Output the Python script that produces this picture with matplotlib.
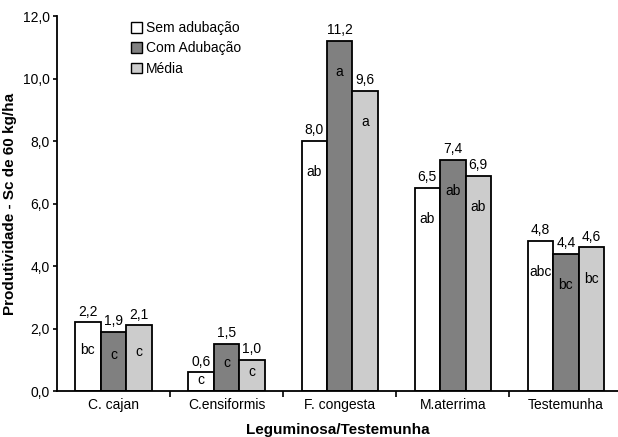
import numpy as np
import matplotlib
matplotlib.use("Agg")
import matplotlib.pyplot as plt
from matplotlib.patches import Patch

plt.rcParams["font.family"] = ["Liberation Sans", "DejaVu Sans"]

categories = ["C. cajan", "C.ensiformis", "F. congesta", "M.aterrima", "Testemunha"]
series_names = ["Sem adubação", "Com Adubação", "Média"]
sem_adub = [2.2, 0.6, 8.0, 6.5, 4.8]
com_adub = [1.9, 1.5, 11.2, 7.4, 4.4]
media = [2.1, 1.0, 9.6, 6.9, 4.6]
letters_sem = ["bc", "c", "ab", "ab", "abc"]
letters_com = ["c", "c", "a", "ab", "bc"]
letters_med = ["c", "c", "a", "ab", "bc"]
yticks = [0, 2, 4, 6, 8, 10, 12]

colors = ["white", "#808080", "#cccccc"]
values = [sem_adub, com_adub, media]
letters = [letters_sem, letters_com, letters_med]

fig = plt.figure(figsize=(6.18, 4.37), dpi=100)
ax = fig.add_axes([0.092, 0.105, 0.908, 0.858])

x = np.arange(len(categories))
w = 0.225
for i in range(3):
    xs = x + (i - 1) * w
    ax.bar(xs, values[i], w, color=colors[i], edgecolor="black", lw=1.3)
    for xi, v, lt in zip(xs, values[i], letters[i]):
        ax.text(xi, v + 0.12, f"{v:.1f}".replace(".", ","), ha="center",
                va="bottom", fontsize=10)
        off = min(1.0, 0.4 * v)
        ax.text(xi, v - off, lt, ha="center", va="center", fontsize=10)

ax.set_xlim(-0.5, 4.46)
ax.set_ylim(0, 12)
ax.set_yticks(yticks)
ax.set_yticklabels([f"{t:.1f}".replace(".", ",") for t in yticks], fontsize=10)
ax.set_xticks(x)
ax.set_xticklabels(categories, fontsize=10)
ax.tick_params(axis="x", length=0, pad=5)
ax.set_xticks(np.arange(len(categories) - 1) + 0.5, minor=True)
ax.tick_params(axis="x", which="minor", length=4, width=1.2)
ax.tick_params(axis="y", length=3, width=1.2, pad=2)
for s in ["top", "right"]:
    ax.spines[s].set_visible(False)
for s in ["left", "bottom"]:
    ax.spines[s].set_linewidth(1.3)

ax.set_ylabel("Produtividade - Sc de 60 kg/ha", fontsize=11, fontweight="bold",
              labelpad=4)
ax.set_xlabel("Leguminosa/Testemunha", fontsize=11, fontweight="bold", labelpad=8)

handles = [Patch(facecolor=c, edgecolor="black", lw=1) for c in colors]
ax.legend(handles, series_names, loc="upper left", bbox_to_anchor=(0.11, 1.02),
          frameon=False, fontsize=10, handlelength=0.8, handleheight=0.8,
          handletextpad=0.3, labelspacing=0.45)

fig.savefig("out.png", dpi=100)
